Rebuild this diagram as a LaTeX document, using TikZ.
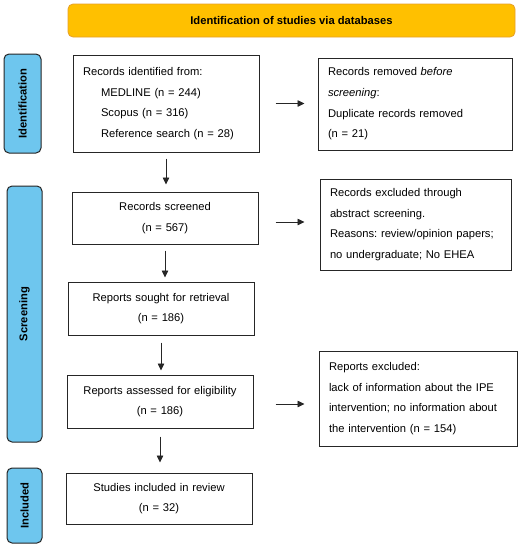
\documentclass[tikz,border=0pt]{standalone}
\usepackage{fontspec}
\setmainfont{Liberation Sans}
\usetikzlibrary{arrows.meta}
\definecolor{bannerfill}{RGB}{255,192,0}
\definecolor{bannerdraw}{RGB}{230,160,40}
\definecolor{sidefill}{RGB}{110,198,238}
\tikzset{
  base/.style={font=\fontsize{11.2}{20.7}\selectfont\frenchspacing},
  box/.style={base,draw=black!85,line width=1pt,fill=white,inner ysep=0pt},
  lbox/.style={box,align=left,inner xsep=10pt},
  cbox/.style={box,align=center,inner xsep=0pt},
  side/.style={draw=black!85,line width=1pt,fill=sidefill,rounded corners=5pt,rotate=90,
     font=\fontsize{11.2}{13}\selectfont\bfseries,inner sep=0pt},
  arr/.style={-{Triangle[length=7pt,width=6.5pt]},line width=0.8pt,black!85},
}
\begin{document}
\begin{tikzpicture}[x=1pt,y=-1pt]
\useasboundingbox (0,0) rectangle (532,550);
\fill[white] (0,0) rectangle (532,550);
% banner
\node[draw=bannerdraw,line width=0.8pt,fill=bannerfill,rounded corners=5pt,
  minimum width=447pt,minimum height=33pt,inner sep=0pt,
  font=\fontsize{11.2}{13}\selectfont\bfseries] (banner) at (291.5,20.5)
  {Identification of studies via databases};
% side labels
\node[side,minimum width=99pt,minimum height=37pt] (sid) at (22.5,103.5) {Identification};
\node[side,minimum width=256pt,minimum height=35pt] (sscr) at (24.5,314) {Screening};
\node[side,minimum width=75pt,minimum height=35pt] (sinc) at (24.5,505.5) {Included};
% boxes
\node[lbox,text width=166pt,minimum height=97pt] (ident) at (166,103.5)
  {Records identified from:\\
   \hspace*{18pt}MEDLINE (n = 244)\\
   \hspace*{18pt}Scopus (n = 316)\\
   \hspace*{18pt}Reference search (n = 28)};
\node[lbox,text width=174pt,minimum height=92pt] (removed) at (415,104)
  {Records removed \emph{before}\\ \emph{screening}:\\ Duplicate records removed\\ (n = 21)};
\node[cbox,text width=186pt,minimum height=52pt] (scr) at (165,218)
  {Records screened\\ (n = 567)};
\node[lbox,text width=171pt,minimum height=91pt] (excl) at (415.5,224.5)
  {Records excluded through\\ abstract screening.\\ Reasons: review/opinion papers;\\ no undergraduate; No EHEA};
\node[cbox,text width=186pt,minimum height=53pt] (sought) at (161,308.5)
  {Reports sought for retrieval\\ (n = 186)};
\node[cbox,text width=186pt,minimum height=53pt] (assess) at (160,401.5)
  {Reports assessed for eligibility\\ (n = 186)};
\node[lbox,text width=178pt,minimum height=95pt] (repex) at (418,398.5)
  {Reports excluded:\\ lack of information about the IPE\\ intervention; no information about\\ the intervention (n = 154)};
\node[cbox,text width=186pt,minimum height=51pt] (incl) at (159,498.5)
  {Studies included in review\\ (n = 32)};
% arrows
\draw[arr,shorten <=16pt,shorten >=13pt] (ident.east) -- (ident.east -| removed.west);
\draw[arr,shorten <=17pt,shorten >=15pt] ([yshift=-4pt]scr.east) -- ([yshift=-4pt]scr.east -| excl.west);
\draw[arr,shorten <=22pt,shorten >=14pt] ([yshift=-2.5pt]assess.east) -- ([yshift=-2.5pt]assess.east -| repex.west);
\draw[arr,shorten <=6pt,shorten >=7pt] (ident.south) -- (ident.south |- scr.north);
\draw[arr,shorten <=6pt,shorten >=4pt] (scr.south) -- (scr.south |- sought.north);
\draw[arr,shorten <=7pt,shorten >=4pt] (sought.south) -- (sought.south |- assess.north);
\draw[arr,shorten <=8pt,shorten >=10pt] (assess.south) -- (assess.south |- incl.north);
\end{tikzpicture}
\end{document}
